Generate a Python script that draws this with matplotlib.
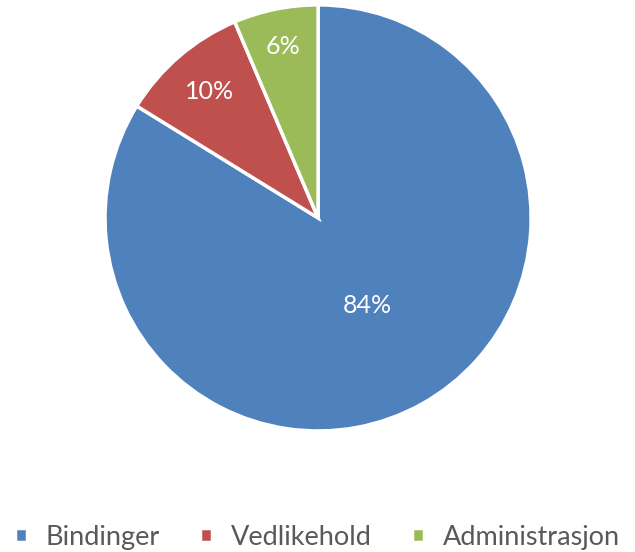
import numpy as np
import matplotlib.pyplot as plt

labels = ['Bindinger', 'Vedlikehold', 'Administrasjon']
values = [83.8, 9.8, 6.4]
colors = ['#4F81BD', '#C0504D', '#9BBB59']
# how far out each percentage label sits (fraction of radius)
label_dist = [0.47, 0.78, 0.82]

plt.rcParams['font.family'] = ['Lato', 'DejaVu Sans']

fig = plt.figure(figsize=(6.35, 5.52), dpi=100)
ax = fig.add_axes([0.1654, 0.2192, 0.671, 0.772])

wedges, _ = ax.pie(values, colors=colors, startangle=90, counterclock=False,
                   wedgeprops=dict(edgecolor='white', linewidth=2.5))

total = sum(values)
for w, v, d in zip(wedges, values, label_dist):
    ang = np.deg2rad((w.theta1 + w.theta2) / 2)
    ax.text(d * np.cos(ang), d * np.sin(ang), f'{round(100 * v / total)}%',
            ha='center', va='center', color='white', fontsize=18)

ax.set_xlim(-1, 1)
ax.set_ylim(-1, 1)
ax.set_aspect('equal')

fig.legend(wedges, labels, loc='center', bbox_to_anchor=(0.5, 0.027),
           ncol=3, frameon=False, fontsize=19.5, labelcolor='#595959',
           handlelength=0.42, handleheight=0.42, handletextpad=0.7,
           columnspacing=1.5)

fig.savefig('out.png', dpi=100)
